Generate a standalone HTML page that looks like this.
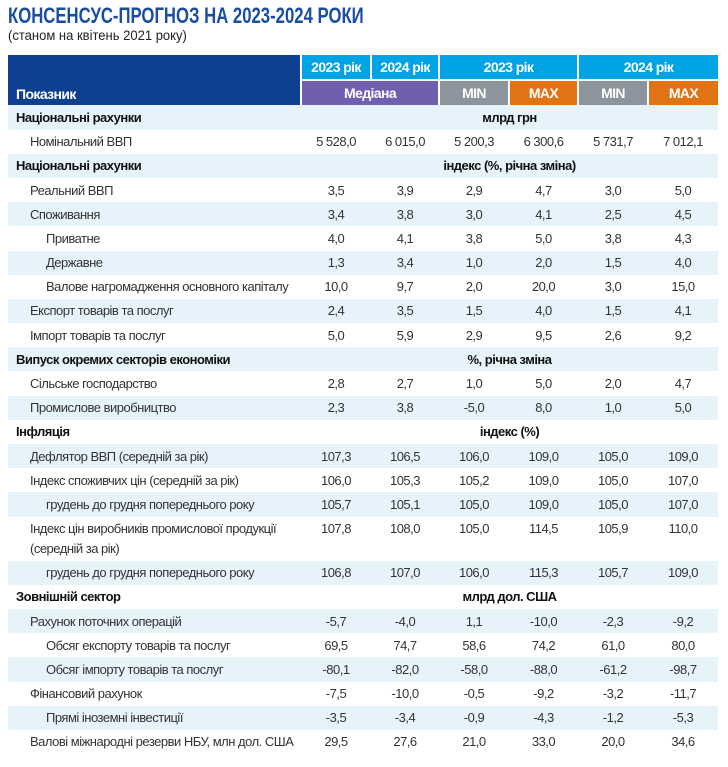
<!DOCTYPE html>
<html><head><meta charset="utf-8"><style>
body{margin:0;background:#fff;width:728px;height:767px;overflow:hidden;font-family:"Liberation Sans Narrow","Liberation Sans",sans-serif;}
.t1{position:absolute;left:8px;top:3px;font-size:22px;font-weight:bold;color:#1a4ea0;transform:scaleX(0.76);transform-origin:left;white-space:nowrap}
.t2{position:absolute;left:8px;top:27px;font-size:14px;color:#222;transform:scaleX(0.93);transform-origin:left;white-space:nowrap}
table{position:absolute;left:8px;top:55px;border-collapse:collapse;table-layout:fixed;width:710px;font-size:13px;color:#333}
td{padding:0;height:24.2px;white-space:nowrap;text-align:center;letter-spacing:-0.5px}
tr.h td{color:#fff;font-weight:bold;font-size:14px;letter-spacing:-0.6px}
tr.s td{background:#e7f3fb}
td.l{text-align:left;padding-left:8px}
td.l2{text-align:left;padding-left:22px}
td.l3{text-align:left;padding-left:38px}
td.b{font-weight:bold;color:#111}
</style></head><body>
<div class="t1">КОНСЕНСУС-ПРОГНОЗ НА 2023-2024 РОКИ</div>
<div class="t2">(станом на квітень 2021 року)</div>
<table>
<colgroup><col style="width:293px"><col style="width:70px"><col style="width:68px"><col style="width:70px"><col style="width:69px"><col style="width:70px"><col style="width:70px"></colgroup>
<tr class="h" style="height:23px"><td rowspan="2" style="background:#0e3f91;text-align:left;vertical-align:bottom;padding:0 0 3px 8px;border-right:2px solid #fff">Показник</td><td style="background:#00a3e4;border-right:2px solid #fff;border-bottom:2px solid #fff">2023 рік</td><td style="background:#00a3e4;border-right:2px solid #fff;border-bottom:2px solid #fff">2024 рік</td><td colspan="2" style="background:#00a3e4;border-right:2px solid #fff;border-bottom:2px solid #fff">2023 рік</td><td colspan="2" style="background:#00a3e4;border-bottom:2px solid #fff">2024 рік</td></tr>
<tr class="h" style="height:25px"><td colspan="2" style="background:#6f5fae;border-right:2px solid #fff">Медіана</td><td style="background:#8c959d;border-right:2px solid #fff">MIN</td><td style="background:#e07414;border-right:2px solid #fff">MAX</td><td style="background:#8c959d;border-right:2px solid #fff">MIN</td><td style="background:#e07414">MAX</td></tr>
<tr class="s"><td class="l b">Національні рахунки</td><td colspan="6" class="b">млрд грн</td></tr>
<tr><td class="l2">Номінальний ВВП</td><td>5 528,0</td><td>6 015,0</td><td>5 200,3</td><td>6 300,6</td><td>5 731,7</td><td>7 012,1</td></tr>
<tr class="s"><td class="l b">Національні рахунки</td><td colspan="6" class="b">індекс (%, річна зміна)</td></tr>
<tr><td class="l2">Реальний ВВП</td><td>3,5</td><td>3,9</td><td>2,9</td><td>4,7</td><td>3,0</td><td>5,0</td></tr>
<tr class="s"><td class="l2">Споживання</td><td>3,4</td><td>3,8</td><td>3,0</td><td>4,1</td><td>2,5</td><td>4,5</td></tr>
<tr><td class="l3">Приватне</td><td>4,0</td><td>4,1</td><td>3,8</td><td>5,0</td><td>3,8</td><td>4,3</td></tr>
<tr class="s"><td class="l3">Державне</td><td>1,3</td><td>3,4</td><td>1,0</td><td>2,0</td><td>1,5</td><td>4,0</td></tr>
<tr><td class="l3">Валове нагромадження основного капіталу</td><td>10,0</td><td>9,7</td><td>2,0</td><td>20,0</td><td>3,0</td><td>15,0</td></tr>
<tr class="s"><td class="l2">Експорт товарів та послуг</td><td>2,4</td><td>3,5</td><td>1,5</td><td>4,0</td><td>1,5</td><td>4,1</td></tr>
<tr><td class="l2">Імпорт товарів та послуг</td><td>5,0</td><td>5,9</td><td>2,9</td><td>9,5</td><td>2,6</td><td>9,2</td></tr>
<tr class="s"><td class="l b">Випуск окремих секторів економіки</td><td colspan="6" class="b">%, річна зміна</td></tr>
<tr><td class="l2">Сільське господарство</td><td>2,8</td><td>2,7</td><td>1,0</td><td>5,0</td><td>2,0</td><td>4,7</td></tr>
<tr class="s"><td class="l2">Промислове виробництво</td><td>2,3</td><td>3,8</td><td>-5,0</td><td>8,0</td><td>1,0</td><td>5,0</td></tr>
<tr><td class="l b">Інфляція</td><td colspan="6" class="b">індекс (%)</td></tr>
<tr class="s"><td class="l2">Дефлятор ВВП (середній за рік)</td><td>107,3</td><td>106,5</td><td>106,0</td><td>109,0</td><td>105,0</td><td>109,0</td></tr>
<tr><td class="l2">Індекс споживчих цін (середній за рік)</td><td>106,0</td><td>105,3</td><td>105,2</td><td>109,0</td><td>105,0</td><td>107,0</td></tr>
<tr class="s"><td class="l3">грудень до грудня попереднього року</td><td>105,7</td><td>105,1</td><td>105,0</td><td>109,0</td><td>105,0</td><td>107,0</td></tr>
<tr style="height:44px"><td class="l2" style="line-height:20px;vertical-align:top;padding-top:2px">Індекс цін виробників промислової продукції<br>(середній за рік)</td><td style="vertical-align:top;padding-top:2px;line-height:20px">107,8</td><td style="vertical-align:top;padding-top:2px;line-height:20px">108,0</td><td style="vertical-align:top;padding-top:2px;line-height:20px">105,0</td><td style="vertical-align:top;padding-top:2px;line-height:20px">114,5</td><td style="vertical-align:top;padding-top:2px;line-height:20px">105,9</td><td style="vertical-align:top;padding-top:2px;line-height:20px">110,0</td></tr>
<tr class="s"><td class="l3">грудень до грудня попереднього року</td><td>106,8</td><td>107,0</td><td>106,0</td><td>115,3</td><td>105,7</td><td>109,0</td></tr>
<tr><td class="l b">Зовнішній сектор</td><td colspan="6" class="b">млрд дол. США</td></tr>
<tr class="s"><td class="l2">Рахунок поточних операцій</td><td>-5,7</td><td>-4,0</td><td>1,1</td><td>-10,0</td><td>-2,3</td><td>-9,2</td></tr>
<tr><td class="l3">Обсяг експорту товарів та послуг</td><td>69,5</td><td>74,7</td><td>58,6</td><td>74,2</td><td>61,0</td><td>80,0</td></tr>
<tr class="s"><td class="l3">Обсяг імпорту товарів та послуг</td><td>-80,1</td><td>-82,0</td><td>-58,0</td><td>-88,0</td><td>-61,2</td><td>-98,7</td></tr>
<tr><td class="l2">Фінансовий рахунок</td><td>-7,5</td><td>-10,0</td><td>-0,5</td><td>-9,2</td><td>-3,2</td><td>-11,7</td></tr>
<tr class="s"><td class="l3">Прямі іноземні інвестиції</td><td>-3,5</td><td>-3,4</td><td>-0,9</td><td>-4,3</td><td>-1,2</td><td>-5,3</td></tr>
<tr><td class="l2">Валові міжнародні резерви НБУ, млн дол. США</td><td>29,5</td><td>27,6</td><td>21,0</td><td>33,0</td><td>20,0</td><td>34,6</td></tr>
</table>
</body></html>
